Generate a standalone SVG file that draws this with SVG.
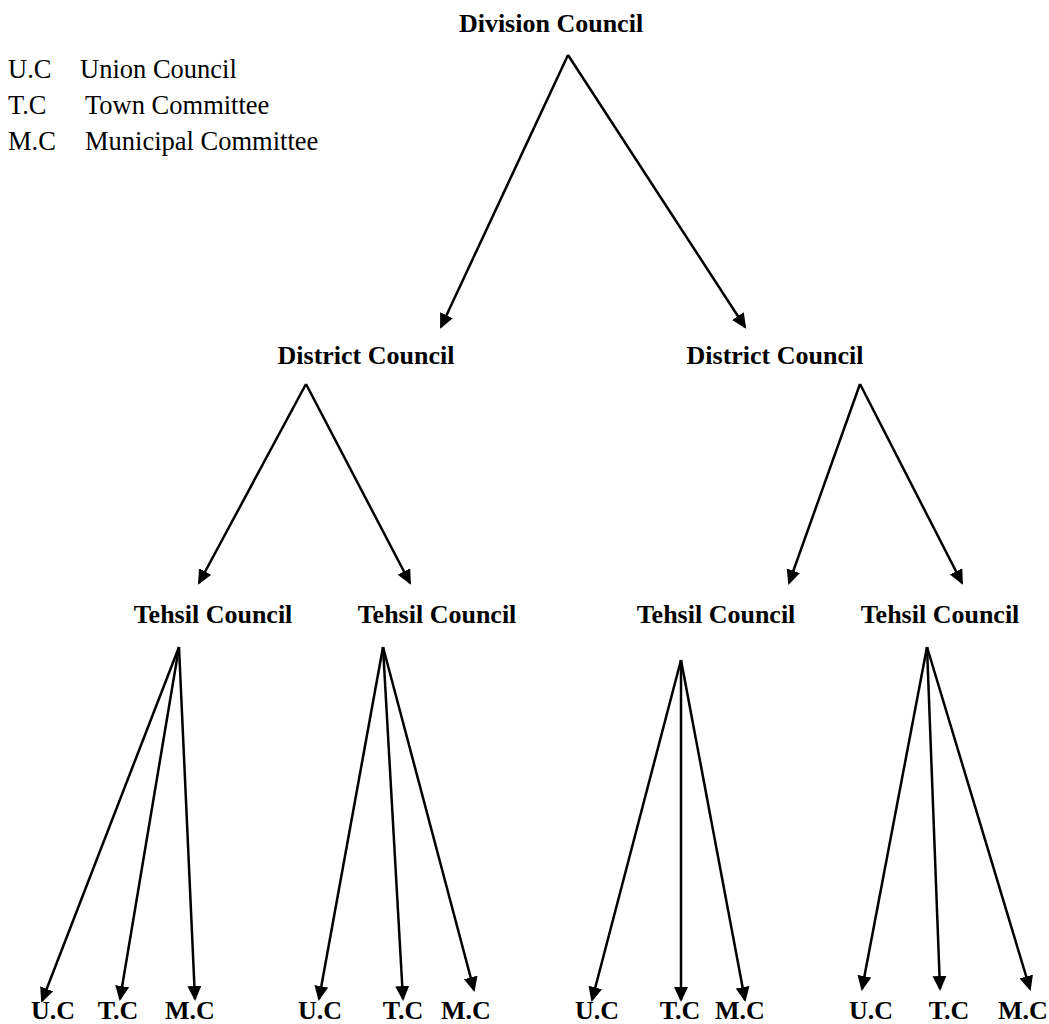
<svg xmlns="http://www.w3.org/2000/svg" width="1049" height="1024" viewBox="0 0 1049 1024">
<defs>
<style>
.n{font-family:"Liberation Serif","Times New Roman",serif;font-weight:bold;font-size:26px;fill:#000;text-anchor:middle}
.lg{font-family:"Liberation Serif","Times New Roman",serif;font-size:26.5px;fill:#000}
.c line{stroke:#000;stroke-width:2.5;marker-end:url(#ah)}
</style>
<marker id="ah" markerUnits="userSpaceOnUse" markerWidth="16" markerHeight="16" refX="13" refY="7" orient="auto">
<path d="M0,0 L15,7 L0,14 z" fill="#000"/>
</marker>
</defs>
<rect width="1049" height="1024" fill="#fff"/>
<g id="legend">
<text class="lg" x="8" y="78">U.C</text><text class="lg" x="80" y="78">Union Council</text>
<text class="lg" x="8" y="114">T.C</text><text class="lg" x="85" y="114">Town Committee</text>
<text class="lg" x="8" y="150">M.C</text><text class="lg" x="85" y="150">Municipal Committee</text>
</g>
<g id="division"><text class="n" x="551" y="32">Division Council</text></g>
<g id="district1"><text class="n" x="366" y="364">District Council</text></g>
<g id="district2"><text class="n" x="775" y="364">District Council</text></g>
<g id="tehsil1"><text class="n" x="213" y="623">Tehsil Council</text></g>
<g id="tehsil2"><text class="n" x="437" y="623">Tehsil Council</text></g>
<g id="tehsil3"><text class="n" x="716" y="623">Tehsil Council</text></g>
<g id="tehsil4"><text class="n" x="940" y="623">Tehsil Council</text></g>
<g id="leaves1"><text class="n" x="53" y="1019">U.C</text><text class="n" x="118" y="1019">T.C</text><text class="n" x="190" y="1019">M.C</text></g>
<g id="leaves2"><text class="n" x="320" y="1019">U.C</text><text class="n" x="403" y="1019">T.C</text><text class="n" x="466" y="1019">M.C</text></g>
<g id="leaves3"><text class="n" x="597" y="1019">U.C</text><text class="n" x="680" y="1019">T.C</text><text class="n" x="740" y="1019">M.C</text></g>
<g id="leaves4"><text class="n" x="871" y="1019">U.C</text><text class="n" x="949" y="1019">T.C</text><text class="n" x="1023" y="1019">M.C</text></g>
<g id="connectors" class="c">
<line x1="568" y1="55" x2="441" y2="327"/>
<line x1="568" y1="55" x2="745" y2="327"/>
<line x1="306" y1="384" x2="199" y2="583"/>
<line x1="306" y1="384" x2="410" y2="583"/>
<line x1="860" y1="384" x2="789" y2="583"/>
<line x1="860" y1="384" x2="962" y2="583"/>
<line x1="179" y1="647" x2="42" y2="1001"/>
<line x1="179" y1="647" x2="120" y2="999"/>
<line x1="179" y1="647" x2="195" y2="999"/>
<line x1="383" y1="647" x2="319" y2="999"/>
<line x1="383" y1="647" x2="403" y2="999"/>
<line x1="383" y1="647" x2="474" y2="990"/>
<line x1="681" y1="660" x2="592" y2="1000"/>
<line x1="681" y1="660" x2="681" y2="1000"/>
<line x1="681" y1="660" x2="745" y2="1000"/>
<line x1="927" y1="647" x2="862" y2="989"/>
<line x1="927" y1="647" x2="940" y2="989"/>
<line x1="927" y1="647" x2="1030" y2="989"/>
</g>
</svg>
